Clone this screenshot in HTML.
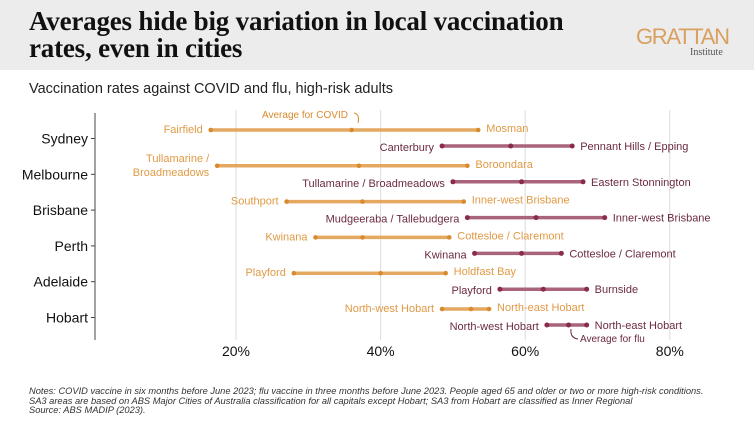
<!DOCTYPE html>
<html><head><meta charset="utf-8"><style>
body{margin:0;width:754px;height:424px;overflow:hidden;background:#fff;font-family:"Liberation Sans",sans-serif}
#hdr{position:absolute;left:0;top:0;width:754px;height:70px;background:#ececec}
#title{position:absolute;left:29px;top:8px;font-family:"Liberation Serif",serif;font-weight:bold;font-size:27px;line-height:27px;color:#111;letter-spacing:-0.2px}
#logo{position:absolute;left:636px;top:24px;color:#d9a060;font-size:22px;letter-spacing:-1.3px}
#inst{position:absolute;left:690px;top:47px;color:#555;font-family:"Liberation Serif",serif;font-size:10px}
#sub{position:absolute;left:29px;top:81px;font-size:14.5px;color:#222}
#notes{position:absolute;left:29px;top:387px;font-size:9.3px;line-height:9.6px;font-style:italic;color:#333;white-space:nowrap}
svg{position:absolute;left:0;top:0}
</style></head><body>
<div id="hdr"></div>
<div id="title">Averages hide big variation in local vaccination<br>rates, even in cities</div>
<div id="logo">GRATTAN</div>
<div id="inst">Institute</div>
<div id="sub">Vaccination rates against COVID and flu, high-risk adults</div>
<svg id="chart" width="754" height="424"></svg>
<div id="notes">Notes: COVID vaccine in six months before June 2023; flu vaccine in three months before June 2023. People aged 65 and older or two or more high-risk conditions.<br>SA3 areas are based on ABS Major Cities of Australia classification for all capitals except Hobart; SA3 from Hobart are classified as Inner Regional<br>Source: ABS MADIP (2023).</div>
<script>
const cities=["Sydney","Melbourne","Brisbane","Perth","Adelaide","Hobart"];
const covidMin=[16.5,17.4,27,31,28,48.5];
const covidAvg=[36,37,37.5,37.5,40,52.5];
const covidMax=[53.5,52,51.5,49.5,49,55];
const fluMin=[48.5,50,52,53,56.5,63];
const fluAvg=[58,59.5,61.5,59.5,62.5,66];
const fluMax=[66.5,68,71,65,68.5,68.5];
const covidMinLbl=["Fairfield","Tullamarine /|Broadmeadows","Southport","Kwinana","Playford","North-west Hobart"];
const covidMaxLbl=["Mosman","Boroondara","Inner-west Brisbane","Cottesloe / Claremont","Holdfast Bay","North-east Hobart"];
const fluMinLbl=["Canterbury","Tullamarine / Broadmeadows","Mudgeeraba / Tallebudgera","Kwinana","Playford","North-west Hobart"];
const fluMaxLbl=["Pennant Hills / Epping","Eastern Stonnington","Inner-west Brisbane","Cottesloe / Claremont","Burnside","North-east Hobart"];
const xTicks=[20,40,60,80];
const NS="http://www.w3.org/2000/svg";
const svg=document.getElementById('chart');
const x=v=>236+(v-20)*7.23;
const rowY=i=>130+i*35.8;
function mk(t,a){const e=document.createElementNS(NS,t);for(const k in a)e.setAttribute(k,a[k]);svg.appendChild(e);return e;}
const OR="#e09a45",MR="#8b2a4b",MRL="#a9637c";
xTicks.forEach(t=>{
 const g=mk('line',{x1:x(t),x2:x(t),y1:110,y2:340,stroke:'#dcdcdc','stroke-width':1});
 
 const l=mk('text',{x:x(t),y:356,'text-anchor':'middle','font-size':14,fill:'#111'});l.textContent=t+'%';
 
});
const ax=mk('line',{x1:95,x2:95,y1:113,y2:340,stroke:'#444','stroke-width':1});

function txt(xx,yy,s,anchor,col,name){
 const parts=s.split('|');
 parts.forEach((p,k)=>{const t=mk('text',{x:xx,y:yy+4+(k-(parts.length-1)/2)*14,'text-anchor':anchor,'font-size':11,fill:col});t.textContent=p;
 });
}
cities.forEach((c,i)=>{
 const yc=rowY(i),yf=yc+16;
 const cy=(yc+yf)/2+0.5;
 const cl=mk('text',{x:88,y:cy+5,'text-anchor':'end','font-size':14,fill:'#111'});cl.textContent=c;
 
 const tk=mk('line',{x1:91,x2:95,y1:cy,y2:cy,stroke:'#444'});
 
 const lc=mk('line',{x1:x(covidMin[i]),x2:x(covidMax[i]),y1:yc,y2:yc,stroke:OR,'stroke-width':3.5,opacity:0.85});
 
 [covidMin[i],covidAvg[i],covidMax[i]].forEach(v=>{const d=mk('circle',{cx:x(v),cy:yc,r:2.3,fill:'#d88a2c'});
  });
 const lf=mk('line',{x1:x(fluMin[i]),x2:x(fluMax[i]),y1:yf,y2:yf,stroke:MRL,'stroke-width':3.5});
 
 [fluMin[i],fluAvg[i],fluMax[i]].forEach(v=>{const d=mk('circle',{cx:x(v),cy:yf,r:2.5,fill:MR});
  });
 txt(x(covidMin[i])-8,yc-1,covidMinLbl[i],'end',OR,'covid-min-label');
 txt(x(covidMax[i])+8,yc-2,covidMaxLbl[i],'start',OR,'covid-max-label');
 txt(x(fluMin[i])-8,yf+1,fluMinLbl[i],'end','#6b2a40','flu-min-label');
 txt(x(fluMax[i])+8,yf,fluMaxLbl[i],'start','#6b2a40','flu-max-label');
});
const a1=mk('text',{x:262,y:118,'font-size':10,fill:'#d88a2c'});a1.textContent='Average for COVID';

const p1=mk('path',{d:`M354 113 q6 1 4 10`,stroke:'#d88a2c',fill:'none','stroke-width':1});

const a2=mk('text',{x:580,y:342,'font-size':10,fill:'#6b2a40'});a2.textContent='Average for flu';

const p2=mk('path',{d:`M578 339 q-8 -1 -7 -10`,stroke:'#6b2a40',fill:'none','stroke-width':1});

</script>
</body></html>
